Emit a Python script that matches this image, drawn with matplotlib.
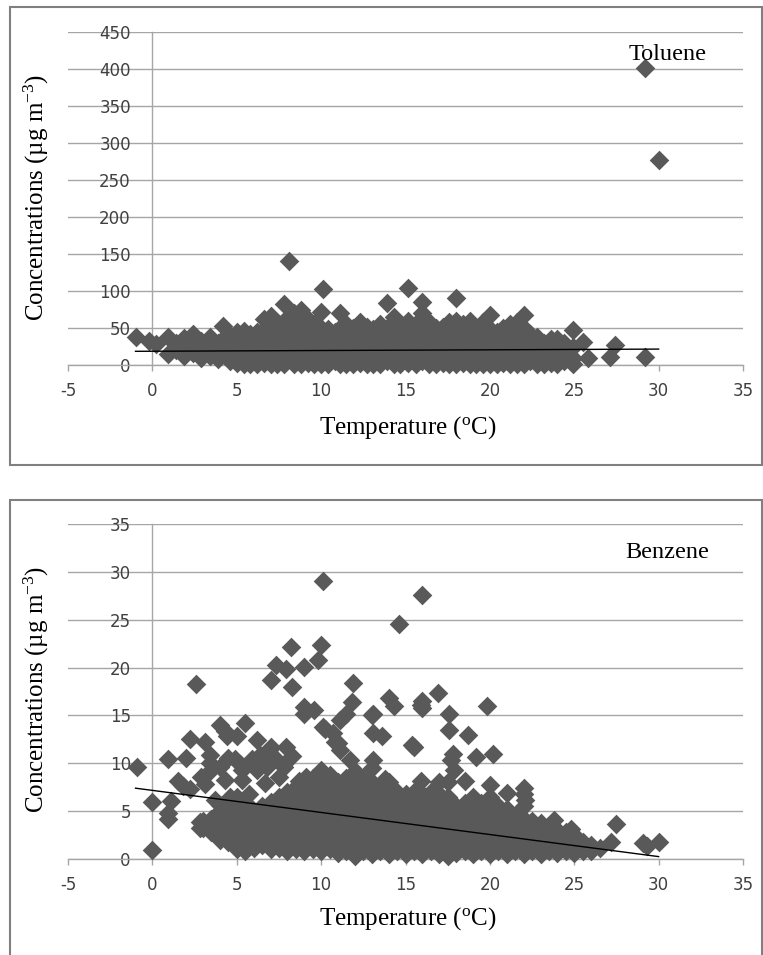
import numpy as np
import matplotlib.pyplot as plt
from matplotlib.patches import Rectangle

plt.rcParams['axes.unicode_minus'] = False
plt.rcParams['mathtext.fontset'] = 'custom'
plt.rcParams['mathtext.rm'] = 'Liberation Serif'
plt.rcParams['mathtext.it'] = 'Liberation Serif:italic'

# Toluene: temperature columns and the concentrations read at each one
toluene_temp = [-1.0, -0.2, 0.2, 0.9, 1.4, 1.9, 2.4, 2.9, 3.4, 3.9, 4.2, 4.6,
                5.0, 5.4, 5.8, 6.2, 6.6, 7.0, 7.4, 7.8, 8.1, 8.4, 8.8, 9.2,
                9.6, 10.0, 10.1, 10.4, 10.8, 11.1, 11.5, 11.9, 12.3, 12.7, 13.1, 13.5,
                13.9, 14.3, 14.7, 15.15, 15.6, 16.0, 16.4, 16.8, 17.2, 17.6, 18.0, 18.4,
                18.8, 19.2, 19.6, 20.0, 20.4, 20.8, 21.2, 21.6, 22.0, 22.4, 22.8, 23.2,
                23.6, 24.0, 24.4, 24.9, 25.5, 25.8, 27.1, 27.4, 29.2, 30.0]
toluene_conc = [[38], [33], [28], [38, 15], [30, 20], [36, 24, 12], [42, 28, 16],
                [33, 20, 10], [38, 25, 12], [30, 18, 8], [53, 35, 22], [40, 28, 10, 5],
                [44, 30, 18, 3], [46, 32, 20, 8, 1], [42, 28, 15, 2], [45, 35, 22, 10, 1],
                [62, 48, 30, 15, 3], [66, 50, 35, 20, 8, 1], [55, 40, 25, 12, 2],
                [82, 60, 45, 30, 15, 1], [140], [70, 50, 35, 20, 8, 2],
                [75, 55, 40, 25, 12, 1], [62, 45, 30, 15, 3], [55, 40, 25, 10, 1],
                [72, 50, 35, 20, 8, 2], [103], [48, 35, 22, 10, 1], [45, 30, 18, 5],
                [70, 50, 35, 20, 8, 1], [55, 40, 25, 12, 2], [50, 38, 25, 10, 1],
                [58, 42, 28, 15, 3], [52, 40, 25, 12, 1], [48, 35, 22, 8, 2],
                [55, 40, 28, 15, 1], [84, 50, 35, 20, 5], [65, 45, 30, 15, 2],
                [52, 38, 25, 10, 1], [104, 60, 42, 28, 15, 3], [55, 40, 25, 12, 1],
                [85, 70, 50, 35, 20, 5], [58, 42, 28, 15, 2], [50, 38, 25, 10, 1],
                [52, 40, 25, 12, 3], [58, 45, 30, 18, 2], [90, 60, 45, 30, 15, 1],
                [55, 40, 25, 10, 3], [60, 45, 30, 18, 1], [50, 38, 25, 12, 2],
                [58, 42, 28, 15, 1], [67, 48, 32, 20, 8, 2], [45, 32, 20, 8, 1],
                [50, 38, 25, 12, 3], [55, 40, 28, 15, 1], [58, 42, 28, 15, 2],
                [67, 50, 35, 20, 8, 1], [42, 30, 18, 5], [38, 25, 12, 2], [30, 20, 8, 1],
                [35, 22, 10, 3], [35, 22, 10, 1], [30, 18, 5], [47, 25, 10, 2], [31],
                [9], [11], [27], [401, 11], [277]]
toluene_trend_t = [-1, 30]
toluene_trend_c = [18.5, 21.5]

# Benzene: dense body of the cloud, by temperature column
benzene_temp = [3.0, 3.5, 4.0, 4.5, 5.0, 5.5, 6.0, 6.5, 7.0, 7.5, 8.0, 8.5, 9.0, 9.5,
                10.0, 10.5, 11.0, 11.5, 12.0, 12.5, 13.0, 13.5, 14.0, 14.5, 15.0,
                15.5, 16.0, 16.5, 17.0, 17.5, 18.0, 18.5, 19.0, 19.5, 20.0, 20.5,
                21.0, 21.5, 22.0, 22.5, 23.0, 23.5, 24.0, 24.5, 25.0, 25.5, 26.0, 26.5]
benzene_conc = [[3.2, 4.0], [2.8, 4.2], [2.0, 3.5, 5.0], [1.8, 3.0, 4.5, 6.0],
                [1.0, 2.2, 3.5, 5.0, 6.5], [0.8, 2.0, 3.2, 4.5, 6.0], [1.2, 2.5, 3.8, 5.0],
                [1.5, 2.8, 4.0, 5.5], [1.0, 2.2, 3.5, 4.8, 6.0], [1.2, 2.5, 3.8, 5.0, 6.5],
                [0.8, 2.0, 3.2, 4.5, 5.8, 7.0], [1.0, 2.2, 3.5, 4.8, 6.0, 7.5],
                [0.8, 2.0, 3.2, 4.5, 5.8, 7.0], [1.0, 2.2, 3.5, 4.8, 6.0, 7.2, 8.5],
                [0.8, 2.0, 3.2, 4.5, 5.8, 7.0, 8.2], [1.0, 2.2, 3.5, 4.8, 6.0, 7.5, 8.8],
                [0.6, 1.8, 3.0, 4.2, 5.5, 6.8, 8.0], [0.8, 2.0, 3.2, 4.5, 5.8, 7.0, 8.5],
                [0.3, 1.5, 2.8, 4.0, 5.2, 6.5, 7.8, 9.2], [0.8, 2.0, 3.2, 4.5, 5.8, 7.0, 8.5],
                [0.5, 1.8, 3.0, 4.2, 5.5, 6.8, 8.0, 9.5], [0.8, 2.0, 3.2, 4.5, 5.8, 7.0],
                [0.5, 1.8, 3.0, 4.2, 5.5, 6.8, 8.0], [0.8, 2.0, 3.2, 4.5, 5.8, 7.0],
                [0.5, 1.8, 3.0, 4.2, 5.5, 6.8], [0.8, 2.0, 3.2, 4.5, 5.8, 7.0],
                [0.5, 1.8, 3.0, 4.2, 5.5, 6.8], [0.8, 2.0, 3.2, 4.5, 5.8, 7.0],
                [0.5, 1.8, 3.0, 4.2, 5.5, 6.8, 8.0], [0.3, 1.5, 2.8, 4.0, 5.2, 6.5, 8.0],
                [0.6, 1.8, 3.0, 4.2, 5.5], [0.8, 2.0, 3.2, 4.5, 5.8],
                [0.5, 1.8, 3.0, 4.2, 5.5, 6.5], [0.8, 2.0, 3.2, 4.5, 5.8],
                [0.5, 1.8, 3.0, 4.2, 5.5, 6.5], [0.8, 2.0, 3.2, 4.5, 5.5],
                [0.5, 1.8, 3.0, 4.2, 5.2], [0.8, 2.0, 3.2, 4.5], [0.5, 1.8, 3.0, 4.2, 5.5],
                [0.8, 2.0, 3.2, 4.0], [0.5, 1.8, 3.0, 3.8], [0.8, 2.0, 3.2], [0.6, 1.8, 3.0],
                [0.8, 2.0, 2.8], [0.6, 1.5, 2.5], [0.8, 1.8], [0.8, 1.5], [1.2]]
# Benzene: scattered points outside the dense body (temperature, concentration)
benzene_extra = [(-0.9, 9.6), (0.0, 6.0), (0.0, 0.9), (0.9, 10.5), (1.1, 6.1), (0.9, 4.8),
                 (0.9, 4.2), (1.5, 8.1), (1.8, 7.6), (2.0, 10.6), (2.2, 12.5), (2.6, 18.3),
                 (2.2, 7.3), (2.8, 3.9), (2.8, 3.2), (2.9, 8.6), (3.1, 12.2), (3.4, 10.9),
                 (3.4, 10.0), (3.3, 9.0), (3.1, 7.8), (3.7, 6.2), (4.0, 14.0), (4.0, 9.6),
                 (4.4, 12.8), (4.3, 13.4), (5.0, 12.9), (4.5, 10.6), (4.9, 10.5), (4.0, 5.6),
                 (4.3, 8.3), (4.6, 6.5), (5.3, 9.3), (5.3, 8.3), (5.5, 14.2), (5.2, 9.9),
                 (5.9, 10.4), (5.7, 6.8), (6.2, 12.4), (6.2, 9.3), (6.0, 9.8), (6.4, 10.9),
                 (6.8, 9.6), (6.9, 11.4), (6.7, 7.9), (7.0, 18.7), (7.3, 20.3), (7.3, 10.5),
                 (7.5, 8.6), (7.9, 19.8), (7.8, 9.6), (8.2, 22.2), (8.3, 18.0), (8.3, 10.8),
                 (7.0, 11.7), (7.9, 11.7), (8.7, 8.1), (9.0, 20.1), (9.0, 15.9), (9.0, 15.2),
                 (9.1, 8.6), (9.3, 7.6), (9.6, 15.6), (9.8, 20.8), (10.0, 22.4), (10.1, 29.0),
                 (10.1, 13.8), (10.0, 9.3), (10.2, 13.6), (10.7, 13.2), (10.8, 12.2),
                 (11.0, 12.1), (11.1, 14.5), (11.1, 11.4), (11.5, 15.2), (11.7, 10.3),
                 (11.8, 16.4), (11.9, 18.4), (13.0, 15.0), (13.1, 15.2), (13.1, 13.2),
                 (13.1, 10.3), (13.6, 12.9), (13.8, 8.4), (14.0, 16.8), (14.3, 16.0),
                 (14.6, 24.6), (15.4, 11.9), (15.5, 11.7), (15.9, 8.1), (15.9, 16.1),
                 (16.0, 27.6), (16.0, 16.5), (16.0, 15.8), (16.7, 7.0), (16.9, 17.3),
                 (17.6, 13.5), (17.6, 15.2), (17.7, 10.3), (17.8, 11.0), (17.9, 9.3),
                 (18.5, 8.1), (18.7, 13.0), (19.2, 10.7), (19.8, 16.0), (20.0, 7.7),
                 (20.2, 11.0), (21.0, 6.9), (22.0, 7.4), (22.0, 6.8), (22.1, 6.2),
                 (23.8, 4.1), (24.8, 3.1), (27.5, 3.7), (27.2, 1.8), (29.1, 1.7),
                 (29.3, 1.4), (30.0, 1.8)]
benzene_trend_t = [-1, 30]
benzene_trend_c = [7.4, 0.25]

x_ticks = [-5, 0, 5, 10, 15, 20, 25, 30, 35]
toluene_ticks = [0, 50, 100, 150, 200, 250, 300, 350, 400, 450]
benzene_ticks = [0, 5, 10, 15, 20, 25, 30, 35]

GRID = '#a6a6a6'
MARK = '#595959'
TXT = '#404040'


def flatten(temps, concs):
    t = [x for x, col in zip(temps, concs) for _ in col]
    c = [v for col in concs for v in col]
    return t, c


def draw_panel(ax, t, c, trend_t, trend_c, yticks, name, name_xy):
    ax.set_xlim(-5, 35)
    ax.set_ylim(yticks[0], yticks[-1])
    ax.set_xticks(x_ticks)
    ax.set_yticks(yticks)
    ax.grid(axis='y', color=GRID, lw=1)
    ax.set_axisbelow(True)
    ax.set_facecolor('none')
    for s in ['top', 'right']:
        ax.spines[s].set_visible(False)
    ax.spines['left'].set_position(('data', 0))
    for s in ['left', 'bottom']:
        ax.spines[s].set_color(GRID)
        ax.spines[s].set_linewidth(1)
    ax.tick_params(axis='y', length=0, pad=15.5, labelsize=12, labelcolor=TXT)
    ax.tick_params(axis='x', length=4, width=1, color=GRID, pad=8,
                   labelsize=12, labelcolor=TXT)
    ax.scatter(t, c, marker='D', s=100, color=MARK, linewidths=0, zorder=3, clip_on=False)
    ax.plot(trend_t, trend_c, color='black', lw=1, zorder=4)
    ax.text(name_xy[0], name_xy[1], name, family='Liberation Serif', fontsize=17.5,
            color='black', va='baseline')


fig = plt.figure(figsize=(7.63, 9.55), dpi=100)
W, H = 763, 955

ax1 = fig.add_axes([68 / W, 1 - 365 / H, 675 / W, 333 / H])
t1, c1 = flatten(toluene_temp, toluene_conc)
draw_panel(ax1, t1, c1, toluene_trend_t, toluene_trend_c, toluene_ticks, 'Toluene', (28.2, 412))

ax2 = fig.add_axes([68 / W, 1 - 859 / H, 675 / W, 335 / H])
t2, c2 = flatten(benzene_temp, benzene_conc)
t2 += [p[0] for p in benzene_extra]
c2 += [p[1] for p in benzene_extra]
draw_panel(ax2, t2, c2, benzene_trend_t, benzene_trend_c, benzene_ticks, 'Benzene', (28.0, 31.4))

ylab = 'Concentrations (µg m$^{-3}$)'
xlab = 'Temperature ($^{\\mathrm{o}}$C)'
lab_kw = dict(family='Liberation Serif', fontsize=18, color='black')
fig.text(36 / W, 1 - 197 / H, ylab, rotation=90, ha='center', va='center', **lab_kw)
fig.text(36 / W, 1 - 689 / H, ylab, rotation=90, ha='center', va='center', **lab_kw)
fig.text(408 / W, 1 - 434 / H, xlab, ha='center', va='baseline', **lab_kw)
fig.text(408 / W, 1 - 925 / H, xlab, ha='center', va='baseline', **lab_kw)

# panel frames
fig.patches.append(Rectangle((10 / W, 1 - 465 / H), 752 / W, 458 / H, transform=fig.transFigure,
                             fill=False, ec='#808080', lw=1.5))
fig.patches.append(Rectangle((10 / W, -0.05), 752 / W, 0.05 + 1 - 500 / H, transform=fig.transFigure,
                             fill=False, ec='#808080', lw=1.5))

fig.savefig('out.png', dpi=100)
